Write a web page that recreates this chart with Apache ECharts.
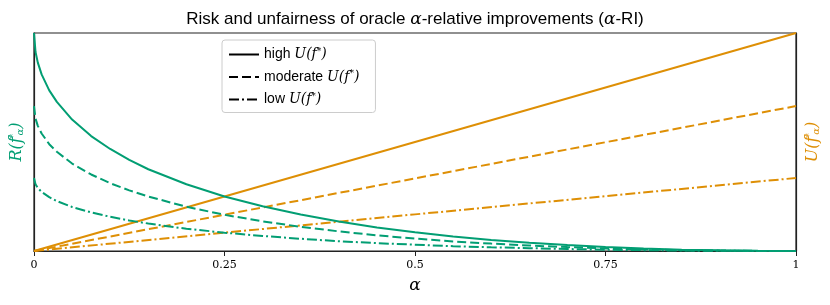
<!DOCTYPE html>
<html><head><meta charset="utf-8">
<script src="https://cdn.jsdelivr.net/npm/echarts@6/dist/echarts.min.js"></script>
<style>html,body{margin:0;padding:0;background:#fff}#c{width:830px;height:305px}</style>
</head><body><div id="c"></div>
<script>
// alpha sample points
const alphaR = [0,0.002,0.005,0.01,0.02,0.03,0.05,0.075,0.1,0.125,0.15,0.2,0.25,0.3,0.35,0.4,0.45,0.5,0.55,0.6,0.65,0.7,0.75,0.8,0.85,0.9,0.95,1];
// risk curves (green)
const riskHigh = [1,0.913,0.864,0.81,0.737,0.684,0.603,0.527,0.468,0.418,0.375,0.306,0.25,0.205,0.167,0.135,0.108,0.086,0.067,0.051,0.038,0.027,0.018,0.011,0.006,0.003,0.001,0];
const riskMod  = [0.665,0.607,0.574,0.539,0.49,0.455,0.401,0.351,0.311,0.278,0.25,0.203,0.166,0.136,0.111,0.09,0.072,0.057,0.044,0.034,0.025,0.018,0.012,0.007,0.004,0.002,0.0004,0];
const riskLow  = [0.335,0.306,0.289,0.271,0.247,0.229,0.202,0.177,0.157,0.14,0.126,0.102,0.084,0.069,0.056,0.045,0.036,0.029,0.022,0.017,0.013,0.009,0.006,0.004,0.002,0.001,0.0002,0];
// unfairness lines (orange)
const alphaU = [0,0.5,1];
const unfHigh = [0,0.5,1];
const unfMod  = [0,0.333,0.665];
const unfLow  = [0,0.168,0.335];
const xTicks = [0,0.25,0.5,0.75,1];
const legendNames = ['high','moderate','low'];

const GREEN = '#029e73', ORANGE = '#de8f05';
const dashes = ['solid',[9,4],[10,3,2,3]];
const pair = (xs, ys) => xs.map((x,i)=>[x, ys[i]]);

const chart = echarts.init(document.getElementById('c'), null, {renderer:'canvas'});
const riskSets = [riskHigh, riskMod, riskLow];
const unfSets = [unfHigh, unfMod, unfLow];
const series = [];
unfSets.forEach((d,i)=>series.push({type:'line', yAxisIndex:1, data:pair(alphaU,d), symbol:'none', z:2,
  lineStyle:{color:ORANGE,width:2,type:dashes[i]}, itemStyle:{color:ORANGE}, silent:true}));
riskSets.forEach((d,i)=>series.push({type:'line', yAxisIndex:0, data:pair(alphaR,d), symbol:'none', z:3,
  lineStyle:{color:GREEN,width:2,type:dashes[i]}, itemStyle:{color:GREEN}, silent:true}));
legendNames.forEach((n,i)=>series.push({type:'line', name:n, data:[], symbol:'none',
  lineStyle:{color:'#000',width:2,type:dashes[i]}, itemStyle:{color:'#000'}}));

const mathRich = (col, big, lh, sw) => ({
  t:{fontFamily:'Liberation Sans',fontSize:big,color:col,lineHeight:lh},
  c:{fontFamily:'DejaVu Serif',fontStyle:'italic',fontSize:big,color:col,lineHeight:lh},
  p:{fontFamily:'DejaVu Serif',fontStyle:'italic',fontSize:big,color:col,lineHeight:lh},
  s:{fontFamily:'DejaVu Serif',fontSize:Math.round(big*0.62),color:col,lineHeight:Math.round(big*0.62),verticalAlign:'top',width:sw},
  b:{fontFamily:'DejaVu Serif',fontStyle:'italic',fontSize:Math.round(big*0.62),color:col,lineHeight:Math.round(big*0.62),verticalAlign:'bottom'}
});

chart.setOption({
  animation:false,
  title:{text:'Risk and unfairness of oracle {a|α}-relative improvements ({a|α}-RI)', left:'center', top:6,
    textStyle:{fontFamily:'Liberation Sans',fontWeight:'normal',fontSize:17,color:'#000',
      rich:{a:{fontFamily:'DejaVu Serif',fontStyle:'italic',fontSize:17,color:'#000'}}}},
  grid:{left:34,right:34,top:33,bottom:54,show:true,borderColor:'#222',borderWidth:1.2,backgroundColor:'transparent',
    outerBoundsMode:'none', containLabel:false},
  legend:{data:legendNames, orient:'vertical', left:222, top:40, itemWidth:30, itemHeight:12, itemGap:8,
    backgroundColor:'#fff', borderColor:'#ccc', borderWidth:1, borderRadius:3, padding:[7,16,6,6],
    itemStyle:{opacity:0},
    textStyle:{fontFamily:'Liberation Sans',fontSize:14,color:'#000',rich:mathRich('#000',14,15,undefined)},
    formatter:n=>'{t|'+n+' }{c|U}{p|(f}{s|*}{p|)}'},
  xAxis:{type:'value',min:0,max:1,interval:0.25,
    name:'α',nameLocation:'middle',nameGap:26,
    nameTextStyle:{fontFamily:'DejaVu Serif',fontStyle:'italic',fontSize:17,color:'#000'},
    axisLine:{show:true,lineStyle:{color:'#222',width:1.2}},
    axisTick:{show:true,inside:false,length:5,lineStyle:{color:'#222'}},
    axisLabel:{fontFamily:'DejaVu Serif',fontSize:11,color:'#000',margin:9,
      formatter:v=>{const t=xTicks.find(x=>Math.abs(x-v)<1e-9);return t===undefined?'':String(t);}},
    splitLine:{show:false}},
  yAxis:[
    {type:'value',min:0,max:1,position:'left',axisLabel:{show:false},axisTick:{show:false},splitLine:{show:false},
     axisLine:{show:true,lineStyle:{color:'#222',width:1.2}},
     name:'{c|R}{p|(f}{s|*}{b|α}{p|)}',nameLocation:'middle',nameGap:9,nameRotate:90,
     nameTextStyle:{color:GREEN,rich:mathRich(GREEN,16,17,2)}},
    {type:'value',min:0,max:1,position:'right',axisLabel:{show:false},axisTick:{show:false},splitLine:{show:false},
     axisLine:{show:true,lineStyle:{color:'#222',width:1.2}},
     name:'{c|U}{p|(f}{s|*}{b|α}{p|)}',nameLocation:'middle',nameGap:8,nameRotate:90,
     nameTextStyle:{color:ORANGE,rich:mathRich(ORANGE,16,17,2)}}
  ],
  series:series
});
</script></body></html>
